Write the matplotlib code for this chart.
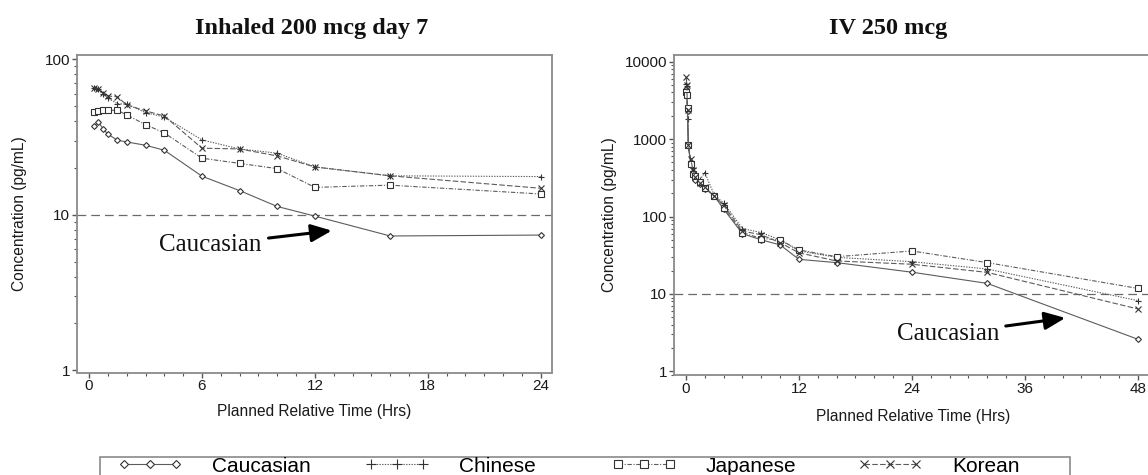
import matplotlib
matplotlib.use("Agg")
import matplotlib.pyplot as plt
from matplotlib.lines import Line2D
from matplotlib.patches import Rectangle
from matplotlib.ticker import FixedLocator, FixedFormatter, MultipleLocator, LogLocator, NullFormatter

# ---- data -------------------------------------------------------------
groups = ["Caucasian", "Chinese", "Japanese", "Korean"]

# Inhaled 200 mcg, day 7
inh_time = [0.25, 0.5, 0.75, 1, 1.5, 2, 3, 4, 6, 8, 10, 12, 16, 24]
inh_caucasian = [37.2, 39.5, 35.6, 33.0, 30.2, 29.4, 28.0, 26.0, 17.7, 14.3, 11.3, 9.8, 7.3, 7.4]
inh_chinese = [65.8, 64.0, 59.5, 56.2, 51.9, 51.4, 45.4, 42.5, 30.3, 26.5, 24.9, 20.3, 17.8, 17.6]
inh_japanese = [45.9, 46.8, 47.0, 47.0, 47.0, 43.9, 38.0, 33.6, 23.1, 21.4, 19.8, 15.0, 15.5, 13.6]
inh_korean = [65.8, 64.7, 60.5, 58.1, 57.3, 51.0, 46.6, 43.2, 26.8, 26.5, 23.9, 20.3, 17.8, 14.8]

# IV 250 mcg
iv_time = [0.033, 0.083, 0.167, 0.25, 0.5, 0.75, 1, 1.5, 2, 3, 4, 6, 8, 10, 12, 16, 24, 32, 48]
iv_caucasian = [4500, 3800, 2300, 850, 480, 380, 300, 260, 230, 185, 125, 60, 50, 43, 28.0, 25.4, 19.1, 13.7, 2.6]
iv_chinese = [5200, 4800, 1800, 800, 520, 420, 340, 300, 370, 190, 150, 70, 62, 50, 36, 29.7, 26.1, 21.0, 8.2]
iv_japanese = [4000, 3700, 2500, 830, 470, 350, 330, 280, 235, 185, 130, 62, 52, 50, 37, 30.3, 35.9, 25.4, 11.8]
iv_korean = [6300, 5000, 2400, 850, 550, 400, 320, 270, 240, 185, 140, 65, 58, 46, 34, 26.7, 24.2, 19.0, 6.4]

lloq = 10

inh_xticks = [0, 6, 12, 18, 24]
iv_xticks = [0, 12, 24, 36, 48]
inh_yticks = [1, 10, 100]
inh_ylabels = ["1", "10", "100"]
iv_yticks = [1, 10, 100, 1000, 10000]
iv_ylabels = ["1", "10", "100", "1000", "10000"]

# ---- styling ------------------------------------------------------------
W, H = 1148, 475
LINE = "#5c5c5c"
SPINE = "#8a8a8a"
styles = {
    "Caucasian": dict(marker="D", ms=3.0, mfc="white", ls="-"),
    "Chinese": dict(marker="+", ms=5.0, ls=(0, (1.2, 1.2))),
    "Japanese": dict(marker="s", ms=3.8, mfc="white", ls=(0, (4, 1.5, 1, 1.5))),
    "Korean": dict(marker="x", ms=4.2, ls=(0, (5, 2))),
}

plt.rcParams["font.family"] = ["Liberation Sans", "DejaVu Sans"]

fig = plt.figure(figsize=(W / 100, H / 100), dpi=100)


def px_axes(left, right, top, bottom):
    return fig.add_axes([left / W, 1 - bottom / H, (right - left) / W, (bottom - top) / H])


ax1 = px_axes(77, 552, 55, 372.5)
ax2 = px_axes(674, 1152, 55, 375)


def draw(ax, t, series):
    for g, vals in zip(groups, series):
        st = styles[g]
        ax.plot(t, vals, color=LINE, lw=0.8, marker=st["marker"], ms=st["ms"],
                mfc=st.get("mfc", LINE), mec="#333333", mew=0.8, ls=st["ls"], zorder=3)
    ax.axhline(lloq, color="#6a6a6a", lw=0.9, ls=(0, (7, 4)), zorder=2)


draw(ax1, inh_time, [inh_caucasian, inh_chinese, inh_japanese, inh_korean])
draw(ax2, iv_time, [iv_caucasian, iv_chinese, iv_japanese, iv_korean])


def style_axes(ax, xticks, xminor, yticks, ylabels, xlim, ylim, xlab_y, ylab_x):
    ax.set_yscale("log")
    ax.set_xlim(*xlim)
    ax.set_ylim(*ylim)
    ax.xaxis.set_major_locator(FixedLocator(xticks))
    ax.xaxis.set_major_formatter(FixedFormatter([str(v) for v in xticks]))
    ax.xaxis.set_minor_locator(MultipleLocator(xminor))
    ax.yaxis.set_major_locator(FixedLocator(yticks))
    ax.yaxis.set_major_formatter(FixedFormatter(ylabels))
    ax.yaxis.set_minor_locator(LogLocator(base=10, subs=range(2, 10)))
    ax.yaxis.set_minor_formatter(NullFormatter())
    for sp in ax.spines.values():
        sp.set_color(SPINE)
        sp.set_linewidth(1.3)
    ax.tick_params(which="major", direction="out", length=3.5, width=1, color="#555555",
                   labelsize=11, labelcolor="#1a1a1a", pad=1.5)
    ax.tick_params(which="minor", direction="out", length=2.2, width=0.8, color="#555555")
    ax.set_xlabel("Planned Relative Time (Hrs)", fontsize=11.2, color="#1a1a1a")
    ax.set_ylabel("Concentration (pg/mL)", fontsize=11.2, color="#1a1a1a")
    ax.xaxis.set_label_coords(0.5, xlab_y)
    ax.yaxis.set_label_coords(ylab_x, 0.5)


style_axes(ax1, inh_xticks, 1, inh_yticks, inh_ylabels, (-0.64, 24.6), (0.966, 106.6), -0.10, -0.105)
style_axes(ax2, iv_xticks, 2, iv_yticks, iv_ylabels, (-1.27, 49.5), (0.898, 12200), -0.105, -0.12)

# panel titles
title_kw = dict(fontsize=17.5, fontweight="bold", family=["Liberation Serif", "DejaVu Serif"],
                color="#111111", va="center", ha="center")
ax1.text(0.493, 1.083, "Inhaled 200 mcg day 7", transform=ax1.transAxes, **title_kw)
ax2.text(0.448, 1.083, "IV 250 mcg", transform=ax2.transAxes, **title_kw)

# call-outs for the Caucasian profile
ann_kw = dict(fontsize=18, family=["Liberation Serif", "DejaVu Serif"], color="#111111",
              ha="center", va="center",
              arrowprops=dict(arrowstyle="-|>,head_length=0.7,head_width=0.3", lw=2.2,
                              color="black", shrinkA=3, shrinkB=0))
ax1.annotate("Caucasian", xy=(12.9, 7.9), xytext=(6.45, 6.4), **ann_kw)
ax2.annotate("Caucasian", xy=(40.3, 4.9), xytext=(27.8, 3.05), **ann_kw)

# shared legend: frame plus one entry per group at fixed column starts
fig.patches.append(Rectangle((100 / W, -0.05), 970 / W, 0.05 + 1 - 457 / H,
                             transform=fig.transFigure, fill=False,
                             edgecolor="#8a8a8a", linewidth=1.2))
col_starts = [118, 365, 612, 858]
for g, x0 in zip(groups, col_starts):
    st = styles[g]
    h = Line2D([], [], color=LINE, lw=0.8, marker=st["marker"], ms=st["ms"] + 1.5,
               mfc=st.get("mfc", LINE), mec="#333333", mew=0.8, ls=st["ls"])
    fig.legend([h], [g], loc="center left", bbox_to_anchor=(x0 / W, 1 - 466 / H),
               numpoints=3, handlelength=3.1, handletextpad=1.4, fontsize=15,
               frameon=False, borderpad=0, borderaxespad=0)

fig.savefig("out.png", dpi=100)
